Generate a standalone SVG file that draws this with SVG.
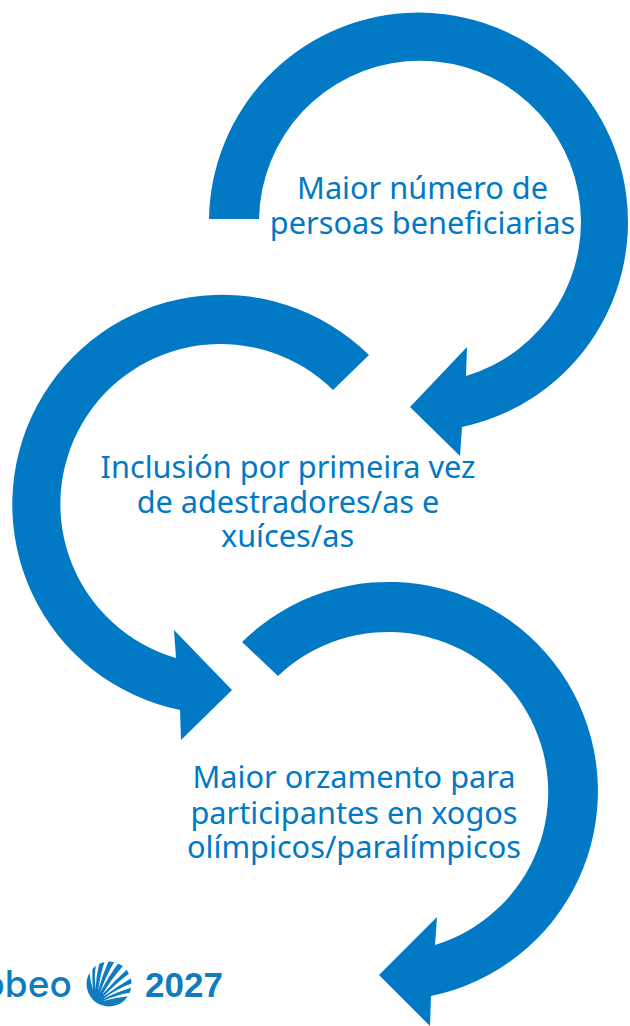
<svg xmlns="http://www.w3.org/2000/svg" width="630" height="1026" viewBox="0 0 630 1026">
<style>
.a{fill:#0179c5}
.t{font-family:"Noto Sans","Open Sans",sans-serif;font-size:30.7px;fill:#0179c5;text-anchor:middle}
.l{fill:#0f7cc0}
.s{fill:#fff}
</style>
<rect width="630" height="1026" fill="#fff"/>
<g id="connectors">
<path id="arrow1" class="a" d="M209 219A209.5 209.5 0 1 1 462 427L460 456L410 407L467 347L466 376A161 161 0 1 0 259 219Z"/>
<path id="arrow2" class="a" d="M369 355A209.700 209.700 0 1 0 180 710L181 740L232 690L174 630L176 658A160.200 160.200 0 1 1 333 390Z"/>
<path id="arrow3" class="a" d="M242 642A209.200 209.200 0 1 1 431 996L430 1026L379 975L437 917L435 945A160 160 0 1 0 278 676Z"/>
</g>
<g id="node1"><text class="t"><tspan x="422.5" y="199">Maior número de</tspan><tspan x="422.5" y="234">persoas beneficiarias</tspan></text></g>
<g id="node2"><text class="t"><tspan x="288" y="478">Inclusión por primeira vez</tspan><tspan x="288" y="513">de adestradores/as e</tspan><tspan x="287.500" y="547">xuíces/as</tspan></text></g>
<g id="node3"><text class="t"><tspan x="354" y="788">Maior orzamento para</tspan><tspan x="354" y="824">participantes en xogos</tspan><tspan x="354" y="858">olímpicos/paralímpicos</tspan></text></g>
<g id="logo">
<text class="l" x="-17.500" y="997" font-family="Inter,sans-serif" font-weight="500" font-size="37">obeo</text>
<text class="l" x="145" y="997" font-family="'Liberation Sans',sans-serif" font-weight="700" font-size="35">2027</text>
<circle cx="109" cy="984" r="22.5" class="l"/>
<path class="s" d="M93 990Q90 980 89 969L92.500 967Q92 980 93 990Z"/>
<path class="s" d="M95.500 990Q94 976 96 962L99.500 962Q96 976 95.500 990Z"/>
<path class="s" d="M98 991Q100 975 105 960L109 960Q102 976 98 991Z"/>
<path class="s" d="M100 993Q106 975 115.500 960L119.500 961.500Q108 977 100 993Z"/>
<path class="s" d="M102 995Q112 978 124 965L128 968.500Q114 981 102 995Z"/>
<path class="s" d="M103 997Q116 983 130 973L133 977Q118 986 103 997Z"/>
<path class="s" d="M103 999Q118 988 133 983L134 987Q119 991 103 999Z"/>
<path class="s" d="M103 1001Q118 994 132 992.500L131 996Q118 997 103 1001Z"/>
</g>
</svg>
